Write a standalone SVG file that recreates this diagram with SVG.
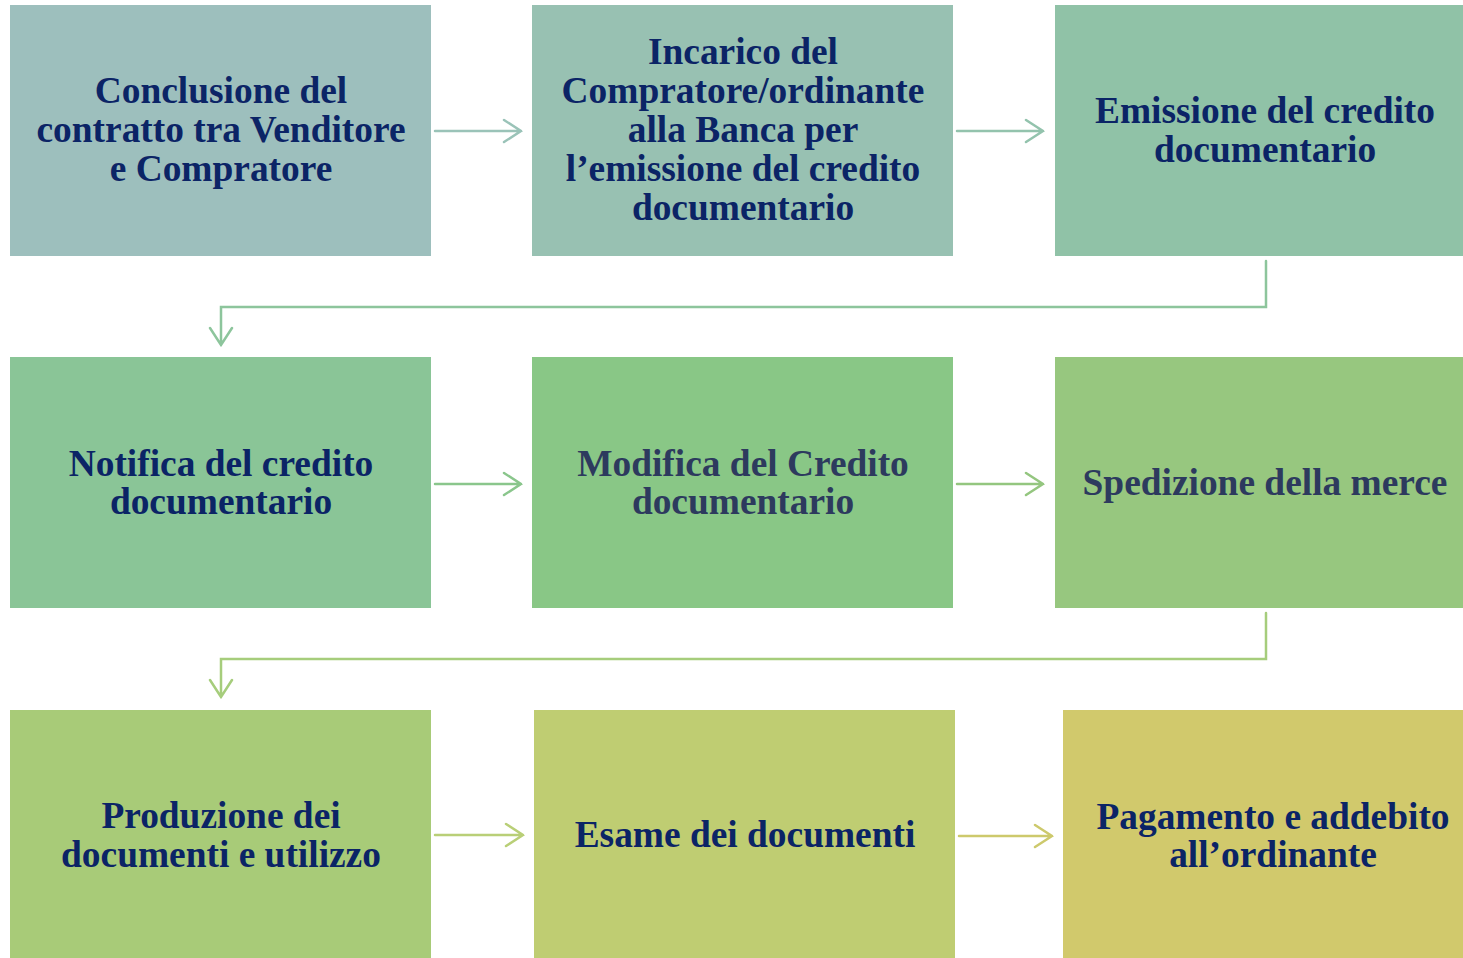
<svg xmlns="http://www.w3.org/2000/svg" width="1463" height="958" viewBox="0 0 1463 958">
<style>
text{font-family:"Liberation Serif","Times New Roman",serif;font-weight:bold;font-size:37.4px;text-anchor:middle;fill:#0b2466}
text.g{fill:#2d3a5e}
.c{fill:none;stroke-width:2.5;stroke-linecap:round;stroke-linejoin:miter}
</style>
<rect width="1463" height="958" fill="#ffffff"/>
<g id="n1"><rect x="10" y="5" width="421" height="251" fill="#9dbfbd"/><text x="221" y="103">Conclusione del</text><text x="221" y="142">contratto tra Venditore</text><text x="221" y="181">e Compratore</text></g>
<g id="n2"><rect x="532" y="5" width="421" height="251" fill="#98c1b2"/><text x="743" y="64">Incarico del</text><text x="743" y="103">Compratore/ordinante</text><text x="743" y="142">alla Banca per</text><text x="743" y="181">l’emissione del credito</text><text x="743" y="220">documentario</text></g>
<g id="n3"><rect x="1055" y="5" width="408" height="251" fill="#90c2a7"/><text x="1265" y="123">Emissione del credito</text><text x="1265" y="162">documentario</text></g>
<g id="n4"><rect x="10" y="357" width="421" height="251" fill="#8ac597"/><text x="221" y="476">Notifica del credito</text><text x="221" y="514">documentario</text></g>
<g id="n5"><rect x="532" y="357" width="421" height="251" fill="#89c786"/><text class="g" x="743" y="476">Modifica del Credito</text><text class="g" x="743" y="514">documentario</text></g>
<g id="n6"><rect x="1055" y="357" width="408" height="251" fill="#97c77f"/><text class="g" x="1265" y="495">Spedizione della merce</text></g>
<g id="n7"><rect x="10" y="710" width="421" height="248" fill="#a8cb78"/><text x="221" y="828">Produzione dei</text><text x="221" y="867">documenti e utilizzo</text></g>
<g id="n8"><rect x="534" y="710" width="421" height="248" fill="#bfcd72"/><text x="745" y="847">Esame dei documenti</text></g>
<g id="n9"><rect x="1063" y="710" width="400" height="248" fill="#d1c96c"/><text x="1273" y="829">Pagamento e addebito</text><text x="1273" y="867">all’ordinante</text></g>
<g id="connectors">
<path class="c" stroke="#9ac3b8" d="M435,131 H521 M504,120 L521,131 L504,142"/>
<path class="c" stroke="#93c3ad" d="M957,131 H1043 M1026,120 L1043,131 L1026,142"/>
<path class="c" stroke="#8dc59c" d="M1266,261 V307 H221 V345 M210,328 L221,345 L232,328"/>
<path class="c" stroke="#8ac68c" d="M435,484 H521 M504,473 L521,484 L504,495"/>
<path class="c" stroke="#94c67f" d="M957,484 H1043 M1026,473 L1043,484 L1026,495"/>
<path class="c" stroke="#a6cd7c" d="M1266,613 V659 H221 V697 M210,680 L221,697 L232,680"/>
<path class="c" stroke="#b9cf77" d="M435,835 H523 M506,824 L523,835 L506,846"/>
<path class="c" stroke="#cdc96c" d="M959,836 H1052 M1035,825 L1052,836 L1035,847"/>
</g>
</svg>
